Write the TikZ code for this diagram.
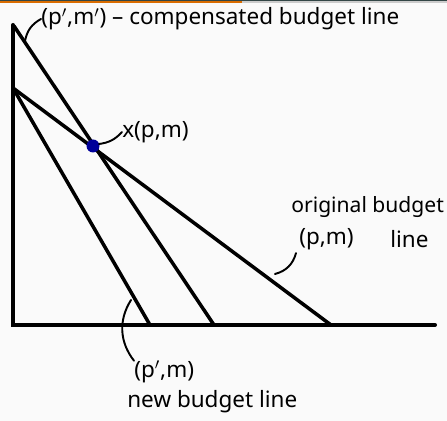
\documentclass[tikz,border=0pt]{standalone}
\usepackage{fontspec}
\setmainfont{Noto Sans}
\begin{document}
\begin{tikzpicture}[x=0.02cm, y=-0.02cm, line cap=round,
    axis/.style={line width=2.3pt},
    budget/.style={line width=2pt},
    pointer/.style={line width=1.1pt},
    hand/.style={inner sep=0pt, anchor=west, font=\fontsize{12.8}{13}\selectfont}]
    % Nền và dải trên cùng
    \fill[black!2] (0,0) rectangle (447,421);
    \useasboundingbox (0,0) rectangle (447,421);
    \fill[black!75!teal!60!gray] (0,0) rectangle (447,1.5);
    \fill[orange!85!black] (0,1.5) rectangle (242,3);
    \fill[black!20] (242,1.5) rectangle (447,3);
    % Hệ trục
    \coordinate (O) at (13,325);
    \coordinate (ytop) at (13,25);
    \coordinate (xend) at (435,325);
    \draw[axis] (ytop) -- (O) -- (xend);
    % Các đường ngân sách
    \coordinate (a1) at (14,26);
    \coordinate (a2) at (214,325);
    \coordinate (b1) at (13,88);
    \coordinate (b2) at (331,325);
    \coordinate (c2) at (150,325);
    \draw[budget] (a1) -- (a2);
    \draw[budget] (b1) -- (b2);
    \draw[budget] (b1) -- (c2);
    % Điểm x(p,m)
    \coordinate (xpt) at (93,146);
    \fill[blue!60!black] (xpt) circle (6.5);
    % Nhãn
    \node[hand] (comp) at (41,19) {(p$'$,m$'$) -- compensated budget line};
    \node[hand] (xlab) at (122,132) {x(p,m)};
    \node[hand, font=\fontsize{12}{13}\selectfont] (orig) at (291,207) {original budget};
    \node[hand] (pm) at (299,239) {(p,m)};
    \node[hand] (line1) at (390,239) {line};
    \node[hand] (newpm) at (134,372) {(p$'$,m)};
    \node[hand] (newl) at (127,402) {new budget line};
    % Đường chỉ
    \coordinate (hA) at (25,41);
    \draw[pointer] (hA) to[bend left=25] (comp.west);
    \draw[pointer] (xpt) ++(6,-2) to[bend right=20] (xlab.west);
    \coordinate (onB) at (275,274);
    \draw[pointer] (pm.south west) ++(-3,3) to[bend left=30] (onB);
    \coordinate (onC) at (131,300);
    \draw[pointer] (onC) to[bend right=35] (newpm.north west);
\end{tikzpicture}
\end{document}
